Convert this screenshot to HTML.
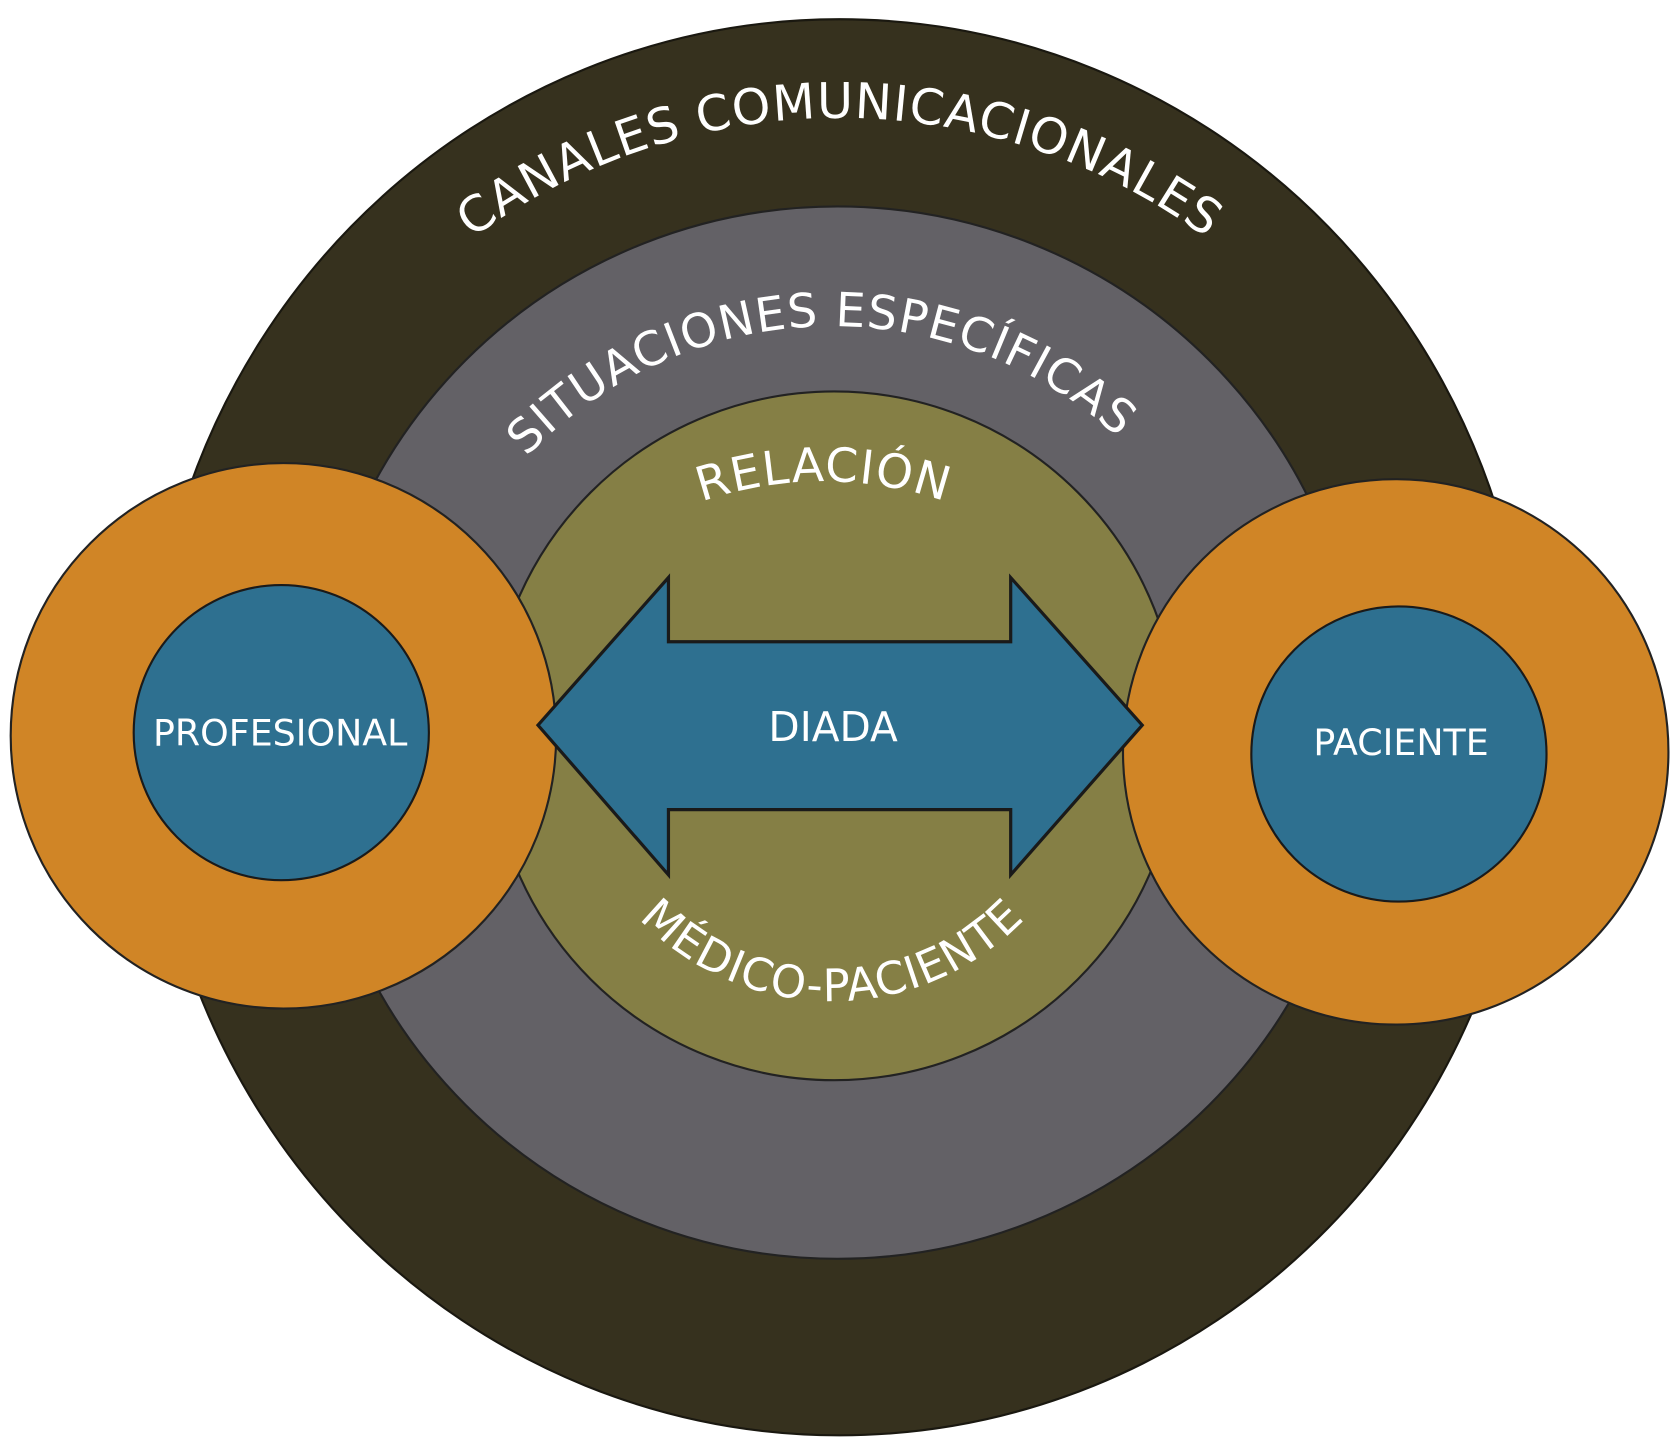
<!DOCTYPE html>
<html><head><meta charset="utf-8"><style>
html,body{margin:0;padding:0;background:#fff;}
svg{display:block;}
text{font-family:"DejaVu Sans","Liberation Sans",sans-serif;fill:#fff;}
</style></head><body>
<svg width="1677" height="1446" viewBox="0 0 1568 1352" preserveAspectRatio="none" xmlns="http://www.w3.org/2000/svg">
<defs>
<path id="p1" d="M 205 690 A 580 580 0 0 1 1365 690"/>
<path id="p2" d="M 383 700 A 395 395 0 0 1 1173 700"/>
<path id="p3" d="M 420 800 A 350 350 0 0 1 1120 800"/>
<path id="p4" d="M 528 686 A 250 250 0 0 0 1028 686"/>
</defs>
<ellipse cx="785" cy="680" rx="646" ry="662" fill="#36311e" stroke="#1a1810" stroke-width="2"/>
<circle cx="783" cy="685" r="492" fill="#636166" stroke="#222" stroke-width="2"/>
<circle cx="780" cy="688" r="322" fill="#857f45" stroke="#222" stroke-width="2"/>
<text font-size="46" letter-spacing="1"><textPath href="#p1" startOffset="50%" text-anchor="middle">CANALES COMUNICACIONALES</textPath></text>
<text font-size="44" letter-spacing="1"><textPath href="#p2" startOffset="49%" text-anchor="middle">SITUACIONES ESPECÍFICAS</textPath></text>
<text font-size="44" letter-spacing="1"><textPath href="#p3" startOffset="50%" text-anchor="middle">RELACIÓN</textPath></text>
<text font-size="42" letter-spacing="1"><textPath href="#p4" startOffset="50%" text-anchor="middle" dominant-baseline="auto">MÉDICO-PACIENTE</textPath></text>
<circle cx="265" cy="688" r="255" fill="#d08526" stroke="#222" stroke-width="2"/>
<circle cx="263" cy="685" r="138" fill="#2e7090" stroke="#1a1a1a" stroke-width="2"/>
<circle cx="1305" cy="703" r="255" fill="#d08526" stroke="#222" stroke-width="2"/>
<circle cx="1308" cy="705" r="138" fill="#2e7090" stroke="#1a1a1a" stroke-width="2"/>
<polygon points="503,678 625,540 625,600 945,600 945,540 1068,678 945,818 945,757 625,757 625,818" fill="#2e7090" stroke="#1a1a1a" stroke-width="3"/>
<text x="779" y="693" font-size="38" text-anchor="middle">DIADA</text>
<text x="262" y="697" font-size="34" text-anchor="middle">PROFESIONAL</text>
<text x="1310" y="706" font-size="34" text-anchor="middle">PACIENTE</text>
</svg>
</body></html>
